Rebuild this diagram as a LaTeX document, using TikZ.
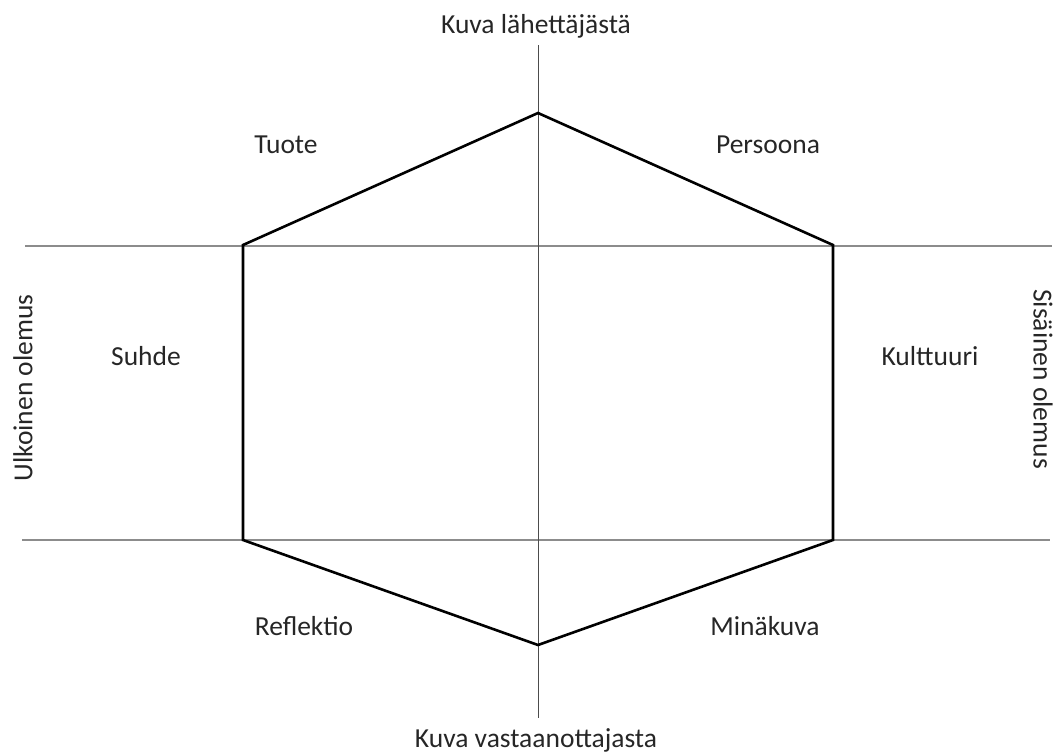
\documentclass[tikz,border=0pt]{standalone}
\usepackage{fontspec}
\setmainfont{Carlito}
\begin{document}
\begin{tikzpicture}[x=1pt,y=-1pt,
  axisline/.style={draw=black!45,line width=2pt},
  midline/.style={draw=black!70,line width=1pt},
  hexline/.style={draw=black,line width=2.6pt,line join=miter},
  lbl/.style={font=\fontsize{27.5}{32}\selectfont,text=black!85,inner sep=0pt},
  baselbl/.style={lbl,anchor=base}]
\useasboundingbox (0,0) rectangle (1055,755);
% axis end points
\coordinate (vtop) at (538,45);
\coordinate (vbot) at (538,718);
\coordinate (l1) at (25,246);
\coordinate (r1) at (1052,246);
\coordinate (l2) at (22,540);
\coordinate (r2) at (1050,540);
% hexagon corners
\coordinate (ht) at (538,113);
\coordinate (htr) at (833,245);
\coordinate (hbr) at (833,540);
\coordinate (hb) at (538,645);
\coordinate (hbl) at (243,540);
\coordinate (htl) at (243,245);
% axes
\draw[axisline] (l1) -- (r1);
\draw[axisline] (l2) -- (r2);
\draw[midline] (vtop) -- (vbot);
% hexagon
\draw[hexline] (ht) -- (htr) -- (hbr) -- (hb) -- (hbl) -- (htl) -- cycle;
% labels
\node[baselbl] (top) at (536,33) {Kuva lähettäjästä};
\node[baselbl] (bot) at (536,747) {Kuva vastaanottajasta};
\node[lbl,rotate=90] (left) at (23,388) {Ulkoinen olemus};
\node[lbl,rotate=-90] (right) at (1043,379) {Sisäinen olemus};
\node[baselbl] (tuote) at (286,153) {Tuote};
\node[baselbl] (persoona) at (768,153) {Persoona};
\node[baselbl] (suhde) at (146,365) {Suhde};
\node[baselbl] (kulttuuri) at (930,365) {Kulttuuri};
\node[baselbl] (reflektio) at (304,635) {Reflektio};
\node[baselbl] (minakuva) at (765,635) {Minäkuva};
\end{tikzpicture}
\end{document}
